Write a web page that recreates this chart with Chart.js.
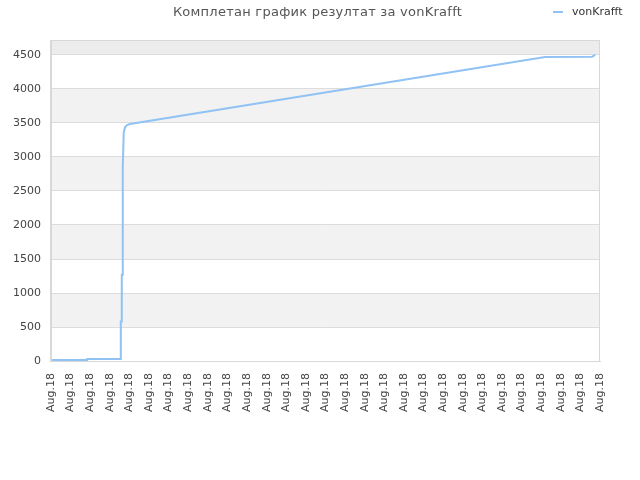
<!DOCTYPE html>
<html>
<head>
<meta charset="utf-8">
<script src="https://cdn.jsdelivr.net/npm/chart.js@4.4.1/dist/chart.umd.min.js"></script>
<style>
  html, body { margin: 0; padding: 0; background: #fff; }
  #wrap { position: relative; width: 640px; height: 480px; }
  #title {
    position: absolute; top: 4px; left: 0; width: 635px; text-align: center;
    font: 13px/16px "DejaVu Sans", sans-serif; color: #555; white-space: nowrap;
    letter-spacing: 0.25px;
  }
  #legend {
    position: absolute; top: 5px; left: 553px;
    font: 11px "DejaVu Sans", sans-serif; color: #333;
    display: flex; align-items: center; white-space: nowrap;
  }
  #legend .swatch { width: 10px; height: 2px; background: #90c2f3; margin-right: 9px; }
</style>
</head>
<body>
<div id="wrap">
  <canvas id="chart" width="640" height="480"></canvas>
  <div id="title"></div>
  <div id="legend"><span class="swatch"></span><span id="series"></span></div>
</div>
<script>
// x position in tick units (29 "Aug.18" ticks, 0..28)
const dayPos = [0.05, 1.84, 1.84, 3.56, 3.56, 3.61, 3.61, 3.66, 3.66, 3.71, 3.78, 3.88, 4.03, 25.2, 27.6, 27.76];
const scores = [15, 15, 30, 30, 580, 580, 1270, 1270, 2850, 3360, 3440, 3470, 3485, 4470, 4475, 4500];
const yTicks = [0, 500, 1000, 1500, 2000, 2500, 3000, 3500, 4000, 4500];
const tickLabel = "Aug.18";
const seriesName = "vonKrafft";
const titleText = "Комплетан график резултат за vonKrafft";

document.getElementById("title").textContent = titleText;
document.getElementById("series").textContent = seriesName;

Chart.defaults.font.family = "'DejaVu Sans', sans-serif";
Chart.defaults.font.size = 11;
Chart.defaults.color = "#444";

const bands = {
  id: "bands",
  beforeDraw(chart) {
    const { ctx, chartArea: a, scales: { y } } = chart;
    ctx.save();
    ctx.fillStyle = "#fff";
    ctx.fillRect(a.left, a.top, a.width, a.height);
    ctx.fillStyle = "#f2f2f2";
    for (let v = 500; v < 4500; v += 1000) {
      const t = y.getPixelForValue(v + 500), b = y.getPixelForValue(v);
      ctx.fillRect(a.left, t, a.width, b - t);
    }
    ctx.fillStyle = "#ececec";
    const t45 = y.getPixelForValue(4500);
    ctx.fillRect(a.left, a.top, a.width, t45 - a.top);
    ctx.restore();
  },
  beforeDatasetsDraw(chart) {
    const { ctx, chartArea: a } = chart;
    ctx.save();
    ctx.strokeStyle = "#d8d8d8";
    ctx.lineWidth = 1;
    ctx.strokeRect(a.left + 0.5, a.top + 0.5, a.width - 1, a.height);
    ctx.restore();
  }
};

new Chart(document.getElementById("chart"), {
  type: "line",
  data: {
    datasets: [{
      label: seriesName,
      data: dayPos.map((x, i) => ({ x: x, y: scores[i] })),
      borderColor: "#90c2f3",
      borderWidth: 2,
      pointRadius: 0,
      tension: 0,
      fill: false
    }]
  },
  options: {
    responsive: false,
    animation: false,
    layout: { padding: { left: 3, right: 40, top: 40, bottom: 56 } },
    plugins: {
      legend: { display: false },
      tooltip: { enabled: false },
      title: { display: false }
    },
    scales: {
      x: {
        type: "linear",
        min: 0,
        max: 28,
        grid: { display: false, drawTicks: false },
        border: { display: true, color: "#d8d8d8" },
        ticks: {
          stepSize: 1,
          autoSkip: false,
          minRotation: 90,
          maxRotation: 90,
          padding: 12,
          callback: () => tickLabel
        }
      },
      y: {
        min: 0,
        max: 4720,
        afterBuildTicks: (axis) => { axis.ticks = yTicks.map((v) => ({ value: v })); },
        grid: { color: "#dcdcdc", drawTicks: false },
        border: { display: true, color: "#d8d8d8" },
        ticks: {
          padding: 10,
          callback: (v) => v
        }
      }
    }
  },
  plugins: [bands]
});
</script>
</body>
</html>
